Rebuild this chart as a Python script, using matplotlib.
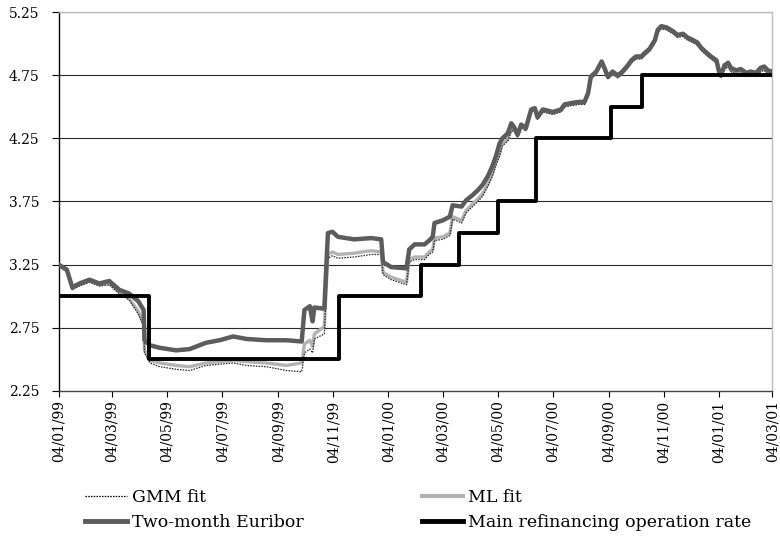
import matplotlib
matplotlib.use("Agg")
import matplotlib.pyplot as plt
import matplotlib.dates as mdates
from matplotlib.lines import Line2D
import pandas as pd

plt.rcParams['font.family'] = ['DejaVu Serif']

series_dates = [
    "1999-01-04", "1999-01-13", "1999-01-19", "1999-01-27", "1999-02-07", "1999-02-18",
    "1999-03-01", "1999-03-12", "1999-03-23", "1999-04-02", "1999-04-08", "1999-04-09",
    "1999-04-15", "1999-04-26", "1999-05-14", "1999-05-29", "1999-06-16", "1999-07-01",
    "1999-07-16", "1999-07-31", "1999-08-22", "1999-09-13", "1999-09-30", "1999-10-03",
    "1999-10-09", "1999-10-12", "1999-10-14", "1999-10-25", "1999-10-29", "1999-11-03",
    "1999-11-09", "1999-11-27", "1999-12-16", "1999-12-27", "1999-12-29", "2000-01-07",
    "2000-01-24", "2000-01-27", "2000-02-02", "2000-02-13", "2000-02-18", "2000-02-22",
    "2000-02-24", "2000-03-04", "2000-03-12", "2000-03-15", "2000-03-25", "2000-03-30",
    "2000-04-06", "2000-04-12", "2000-04-17", "2000-04-23", "2000-04-28", "2000-05-02",
    "2000-05-06", "2000-05-09", "2000-05-15", "2000-05-19", "2000-05-22", "2000-05-26",
    "2000-05-30", "2000-06-04", "2000-06-10", "2000-06-14", "2000-06-17", "2000-06-23",
    "2000-07-04", "2000-07-13", "2000-07-17", "2000-07-24", "2000-08-02", "2000-08-08",
    "2000-08-12", "2000-08-15", "2000-08-21", "2000-08-27", "2000-08-30", "2000-09-03",
    "2000-09-08", "2000-09-14", "2000-09-19", "2000-09-25", "2000-09-29", "2000-10-04",
    "2000-10-10", "2000-10-14", "2000-10-19", "2000-10-25", "2000-10-28", "2000-11-01",
    "2000-11-07", "2000-11-14", "2000-11-19", "2000-11-25", "2000-11-30", "2000-12-06",
    "2000-12-11", "2000-12-15", "2000-12-21", "2000-12-26", "2001-01-01", "2001-01-04",
    "2001-01-06", "2001-01-10", "2001-01-14", "2001-01-17", "2001-01-23", "2001-01-28",
    "2001-02-03", "2001-02-08", "2001-02-14", "2001-02-19", "2001-02-23", "2001-02-27",
    "2001-03-04",
]

euribor = [
    3.25, 3.21, 3.07, 3.10, 3.13, 3.10, 3.12, 3.05, 3.02, 2.96, 2.89, 2.65,
    2.61, 2.59, 2.57, 2.58, 2.63, 2.65, 2.68, 2.66, 2.65, 2.65, 2.64, 2.89,
    2.92, 2.80, 2.91, 2.90, 3.50, 3.51, 3.47, 3.45, 3.46, 3.45, 3.27, 3.23,
    3.22, 3.37, 3.41, 3.41, 3.44, 3.47, 3.58, 3.60, 3.63, 3.72, 3.71, 3.76,
    3.80, 3.84, 3.88, 3.95, 4.03, 4.11, 4.21, 4.25, 4.29, 4.37, 4.34, 4.28,
    4.36, 4.33, 4.48, 4.49, 4.42, 4.48, 4.46, 4.48, 4.52, 4.53, 4.54, 4.54,
    4.61, 4.74, 4.78, 4.86, 4.81, 4.74, 4.78, 4.75, 4.78, 4.83, 4.87, 4.90,
    4.90, 4.93, 4.96, 5.03, 5.11, 5.14, 5.13, 5.10, 5.07, 5.08, 5.05, 5.03,
    5.01, 4.97, 4.93, 4.90, 4.87, 4.78, 4.75, 4.83, 4.85, 4.81, 4.79, 4.80,
    4.77, 4.78, 4.77, 4.81, 4.82, 4.79, 4.78,
]

ml_fit = [
    3.25, 3.20, 3.06, 3.09, 3.12, 3.09, 3.10, 3.03, 2.98, 2.88, 2.78, 2.57,
    2.49, 2.47, 2.45, 2.44, 2.47, 2.48, 2.49, 2.48, 2.47, 2.45, 2.47, 2.62,
    2.65, 2.60, 2.70, 2.76, 3.33, 3.35, 3.33, 3.34, 3.36, 3.35, 3.19, 3.15,
    3.11, 3.29, 3.31, 3.31, 3.35, 3.37, 3.46, 3.47, 3.50, 3.63, 3.60, 3.68,
    3.73, 3.77, 3.81, 3.89, 3.97, 4.06, 4.13, 4.21, 4.24, 4.32, 4.32, 4.27,
    4.35, 4.32, 4.47, 4.48, 4.41, 4.47, 4.45, 4.47, 4.51, 4.52, 4.53, 4.53,
    4.60, 4.73, 4.77, 4.85, 4.80, 4.73, 4.77, 4.74, 4.77, 4.82, 4.86, 4.89,
    4.89, 4.92, 4.95, 5.02, 5.10, 5.13, 5.12, 5.09, 5.06, 5.07, 5.04, 5.02,
    5.00, 4.96, 4.92, 4.89, 4.86, 4.76, 4.74, 4.81, 4.83, 4.79, 4.77, 4.78,
    4.75, 4.76, 4.75, 4.79, 4.80, 4.77, 4.76,
]

gmm_fit = [
    3.24, 3.19, 3.05, 3.08, 3.11, 3.08, 3.09, 3.02, 2.97, 2.86, 2.76, 2.55,
    2.47, 2.44, 2.42, 2.41, 2.45, 2.46, 2.47, 2.45, 2.44, 2.41, 2.40, 2.55,
    2.58, 2.55, 2.66, 2.70, 3.30, 3.32, 3.30, 3.31, 3.33, 3.33, 3.17, 3.13,
    3.09, 3.27, 3.29, 3.29, 3.33, 3.35, 3.44, 3.45, 3.48, 3.61, 3.58, 3.66,
    3.71, 3.75, 3.79, 3.87, 3.95, 4.04, 4.11, 4.19, 4.23, 4.31, 4.31, 4.26,
    4.34, 4.31, 4.46, 4.47, 4.40, 4.46, 4.44, 4.46, 4.50, 4.51, 4.52, 4.52,
    4.59, 4.72, 4.76, 4.84, 4.79, 4.72, 4.76, 4.73, 4.76, 4.81, 4.85, 4.88,
    4.88, 4.91, 4.94, 5.01, 5.09, 5.12, 5.11, 5.08, 5.05, 5.06, 5.03, 5.01,
    4.99, 4.95, 4.91, 4.88, 4.85, 4.75, 4.73, 4.80, 4.82, 4.78, 4.76, 4.77,
    4.74, 4.75, 4.74, 4.78, 4.79, 4.76, 4.75,
]

refi_dates = ["1999-01-04", "1999-04-14", "1999-11-10", "2000-02-09", "2000-03-22",
              "2000-05-04", "2000-06-15", "2000-09-06", "2000-10-11", "2001-03-04"]
refi_rate = [3.00, 2.50, 3.00, 3.25, 3.50, 3.75, 4.25, 4.50, 4.75, 4.75]

y_ticks = [2.25, 2.75, 3.25, 3.75, 4.25, 4.75, 5.25]
x_tick_dates = ["1999-01-04", "1999-03-04", "1999-05-04", "1999-07-04", "1999-09-04",
                "1999-11-04", "2000-01-04", "2000-03-04", "2000-05-04", "2000-07-04",
                "2000-09-04", "2000-11-04", "2001-01-04", "2001-03-04"]

labels = ["GMM fit", "ML fit", "Two-month Euribor", "Main refinancing operation rate"]

d = pd.to_datetime(series_dates)
rd = pd.to_datetime(refi_dates)
xt = pd.to_datetime(x_tick_dates)

fig = plt.figure(figsize=(7.8, 5.37), dpi=100)
ax = fig.add_axes([58.7 / 780, 1 - 390.7 / 537, (772.4 - 58.7) / 780, (390.7 - 12.3) / 537])

for yv in y_ticks[1:]:
    ax.axhline(yv, color="#2a2a2a", lw=0.8, zorder=1)

c_eur = "#5c5c5c"
c_ml = "#b3b3b3"
ax.plot(d, ml_fit, color=c_ml, lw=2.4, zorder=2, solid_joinstyle="round")
ax.plot(d, gmm_fit, color="#222222", lw=0.9, ls=(0, (1.2, 1.0)), zorder=3)
ax.plot(d, euribor, color=c_eur, lw=3.2, zorder=4, solid_joinstyle="round")
ax.plot(rd, refi_rate, color="black", lw=2.8, drawstyle="steps-post", zorder=5)

ax.set_xlim(xt[0], xt[-1])
ax.set_ylim(2.25, 5.25)
ax.set_yticks(y_ticks)
ax.set_yticklabels([f"{v:.2f}" for v in y_ticks])
ax.set_xticks(xt)
ax.xaxis.set_major_formatter(mdates.DateFormatter("%d/%m/%y"))
ax.tick_params(axis="x", rotation=90, length=4, width=0.8, pad=3, labelsize=10)
ax.tick_params(axis="y", length=5, width=0.8, pad=9, labelsize=10)
for s in ["top", "right"]:
    ax.spines[s].set_color("#bdbdbd")
    ax.spines[s].set_linewidth(1.0)
ax.spines["left"].set_linewidth(1.0)
ax.spines["bottom"].set_linewidth(1.0)
ax.spines["bottom"].set_color("#444444")

h_gmm = Line2D([], [], color="black", lw=0.9, ls=(0, (1.2, 1.0)))
h_ml = Line2D([], [], color=c_ml, lw=3.0)
h_eur = Line2D([], [], color=c_eur, lw=3.5)
h_refi = Line2D([], [], color="black", lw=3.5)

common = dict(frameon=False, fontsize=12.5, handlelength=2.4, handletextpad=0.28,
              labelspacing=0.45, borderpad=0, borderaxespad=0, loc="upper left")
leg1 = fig.legend([h_gmm, h_eur], [labels[0], labels[2]],
                  bbox_to_anchor=(85 / 780, 1 - 489 / 537), **common)
leg2 = fig.legend([h_ml, h_refi], [labels[1], labels[3]],
                  bbox_to_anchor=(421.5 / 780, 1 - 489 / 537), **common)

fig.savefig("out.png", dpi=100)
